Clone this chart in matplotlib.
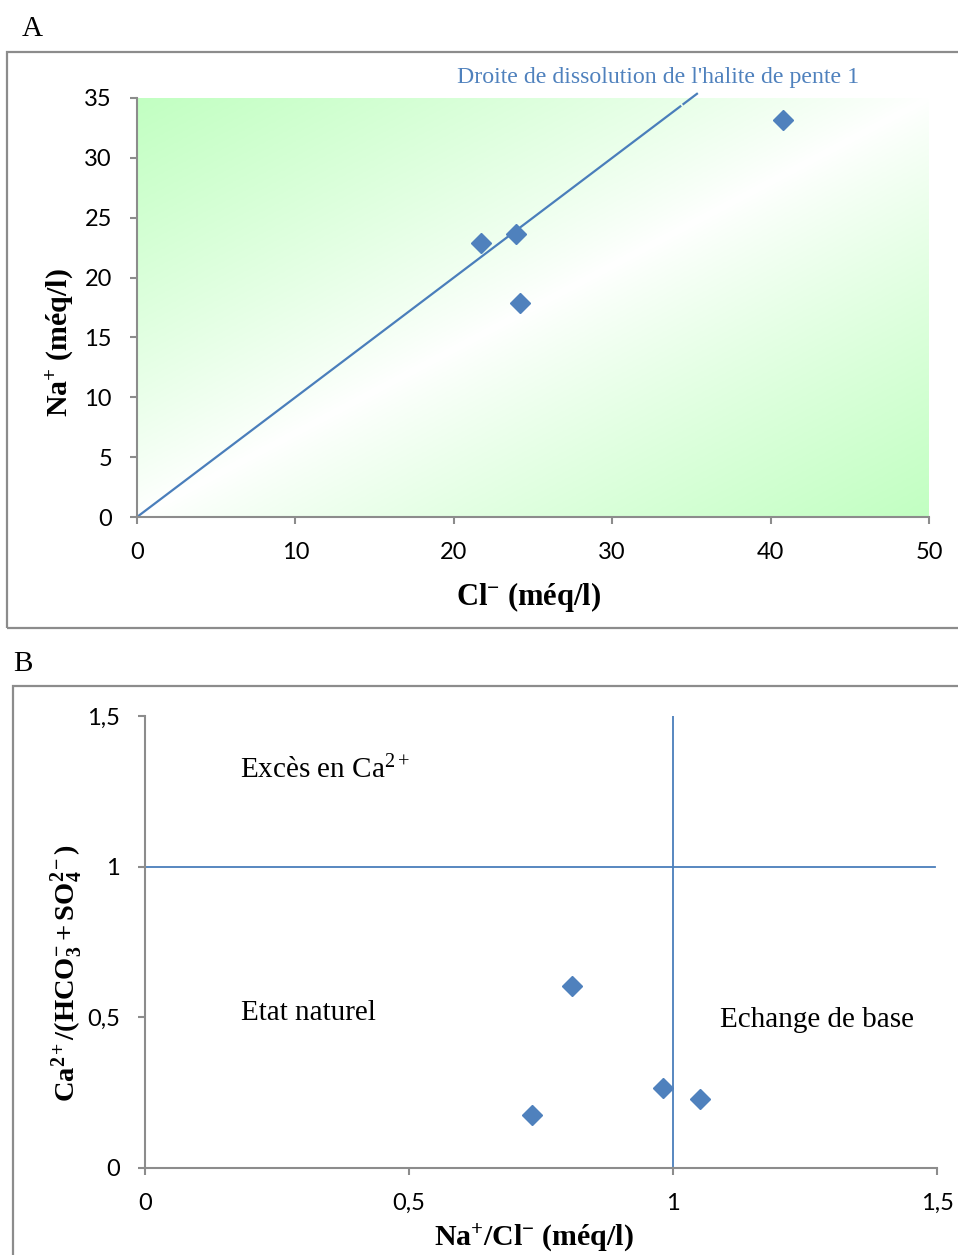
import numpy as np
import matplotlib
matplotlib.use("Agg")
import matplotlib.pyplot as plt
from matplotlib.patches import Rectangle
from matplotlib.colors import LinearSegmentedColormap

# ---- data ----
# Panel A: Na+ versus Cl- (meq/l)
cl_meq = [21.7, 23.9, 24.2, 40.8]
na_meq = [22.9, 23.6, 17.9, 33.2]
halite_x = [0, 34.3]           # 1:1 halite dissolution line
halite_lead_x = [34.5, 35.35]  # leader segment up to the label
a_xticks = [0, 10, 20, 30, 40, 50]
a_yticks = [0, 5, 10, 15, 20, 25, 30, 35]

# Panel B: Ca2+/(HCO3- + SO4 2-) versus Na+/Cl-
na_cl_ratio = [0.809, 0.733, 0.981, 1.051]
ca_ratio = [0.604, 0.176, 0.266, 0.229]
b_ticks = [0, 0.5, 1, 1.5]
b_ticklabels = ["0", "0,5", "1", "1,5"]

W, H = 958, 1255
plt.rcParams["mathtext.fontset"] = "custom"
plt.rcParams["mathtext.rm"] = "Liberation Serif"
plt.rcParams["mathtext.it"] = "Liberation Serif:italic"
plt.rcParams["mathtext.bf"] = "Liberation Serif:bold"

SERIF = "Liberation Serif"
TICKFONT = "Lato"
BLUE = "#4f81bd"
LINE = "#4a7ebb"
GREY = "#8c8c8c"


def fx(px):
    return px / W


def fy(py):
    return 1 - py / H


def axes_rect(x0, y0, x1, y1):
    return [fx(x0), fy(y1), fx(x1) - fx(x0), fy(y0) - fy(y1)]


def style_axes(ax):
    for s in ("top", "right"):
        ax.spines[s].set_visible(False)
    for s in ("left", "bottom"):
        ax.spines[s].set_color(GREY)
        ax.spines[s].set_linewidth(1.5)
    ax.tick_params(direction="out", length=5, width=1.5, color=GREY,
                   labelsize=17, labelcolor="black")
    ax.tick_params(axis="y", pad=13)
    ax.tick_params(axis="x", pad=13)
    for lab in ax.get_xticklabels() + ax.get_yticklabels():
        lab.set_fontfamily(TICKFONT)


fig = plt.figure(figsize=(W / 100, H / 100), dpi=100)

# frames around both panels
fig.patches.append(Rectangle((fx(7), fy(628)), fx(1000) - fx(7), fy(52) - fy(628),
                             transform=fig.transFigure, fill=False,
                             edgecolor=GREY, linewidth=1.6))
fig.patches.append(Rectangle((fx(13), fy(1300)), fx(1000) - fx(13), fy(686) - fy(1300),
                             transform=fig.transFigure, fill=False,
                             edgecolor=GREY, linewidth=1.6))

fig.text(fx(22), fy(29), "A", family=SERIF, fontsize=21, va="center", ha="left")
fig.text(fx(13), fy(664), "B", family=SERIF, fontsize=21, va="center", ha="left")

# ---- Panel A ----
axA = fig.add_axes(axes_rect(137, 98, 929, 517))
axA.set_xlim(0, 50)
axA.set_ylim(0, 35)

# diagonal green-white-green background
u = np.linspace(0, 1, 400)
v = np.linspace(0, 1, 300)
U, V = np.meshgrid(u, v)
T = np.abs(U - V) ** 0.85
cmap = LinearSegmentedColormap.from_list("wg", ["#ffffff", "#c2ffc2"])
axA.imshow(T, cmap=cmap, vmin=0, vmax=1, origin="lower",
           extent=(0, 50, 0, 35), aspect="auto", zorder=0, interpolation="bilinear")

axA.plot(halite_x, halite_x, color=LINE, lw=1.6, zorder=2)
axA.plot(halite_lead_x, halite_lead_x, color=LINE, lw=1.6, zorder=2, clip_on=False)
axA.plot(cl_meq, na_meq, linestyle="none", marker="D", ms=10.5,
         color=BLUE, markeredgecolor=BLUE, zorder=3, clip_on=False)

axA.set_xticks(a_xticks)
axA.set_yticks(a_yticks)
style_axes(axA)

fig.text(fx(457), fy(78), "Droite de dissolution de l'halite de pente 1",
         family=SERIF, fontsize=17.2, color=BLUE, ha="left", va="center")
fig.text(fx(529), fy(597), r"Cl$\mathbf{^{-}}$ (méq/l)", family=SERIF,
         fontweight="bold", fontsize=22, ha="center", va="center")
fig.text(fx(60), fy(343), r"Na$\mathbf{^{+}}$ (méq/l)", family=SERIF,
         fontweight="bold", fontsize=21.5, ha="center", va="center", rotation=90)

# ---- Panel B ----
axB = fig.add_axes(axes_rect(145, 716, 937, 1168))
axB.set_xlim(0, 1.5)
axB.set_ylim(0, 1.5)
axB.axhline(1, xmin=0, xmax=1.496 / 1.5, color=LINE, lw=1.3, zorder=2)
axB.axvline(1, color=LINE, lw=1.3, zorder=2)
axB.plot(na_cl_ratio, ca_ratio, linestyle="none", marker="D", ms=10.5,
         color=BLUE, markeredgecolor=BLUE, zorder=3)
axB.set_xticks(b_ticks)
axB.set_xticklabels(b_ticklabels)
axB.set_yticks(b_ticks)
axB.set_yticklabels(b_ticklabels)
style_axes(axB)

axB.text(0.18, 1.322, r"Excès en Ca$^{2+}$", family=SERIF, fontsize=21,
         ha="left", va="center")
axB.text(0.182, 0.514, "Etat naturel", family=SERIF, fontsize=21,
         ha="left", va="center")
axB.text(1.089, 0.491, "Echange de base", family=SERIF, fontsize=21,
         ha="left", va="center")

fig.text(fx(534), fy(1238), r"Na$\mathbf{^{+}}$/Cl$\mathbf{^{-}}$ (méq/l)",
         family=SERIF, fontweight="bold", fontsize=21.5, ha="center", va="center")
fig.text(fx(67), fy(973), r"$\mathbf{Ca^{2+}/(HCO_{3}^{-}+SO_{4}^{2-})}$",
         family=SERIF, fontsize=20.5, ha="center", va="center", rotation=90)

fig.savefig("out.png", dpi=100)
